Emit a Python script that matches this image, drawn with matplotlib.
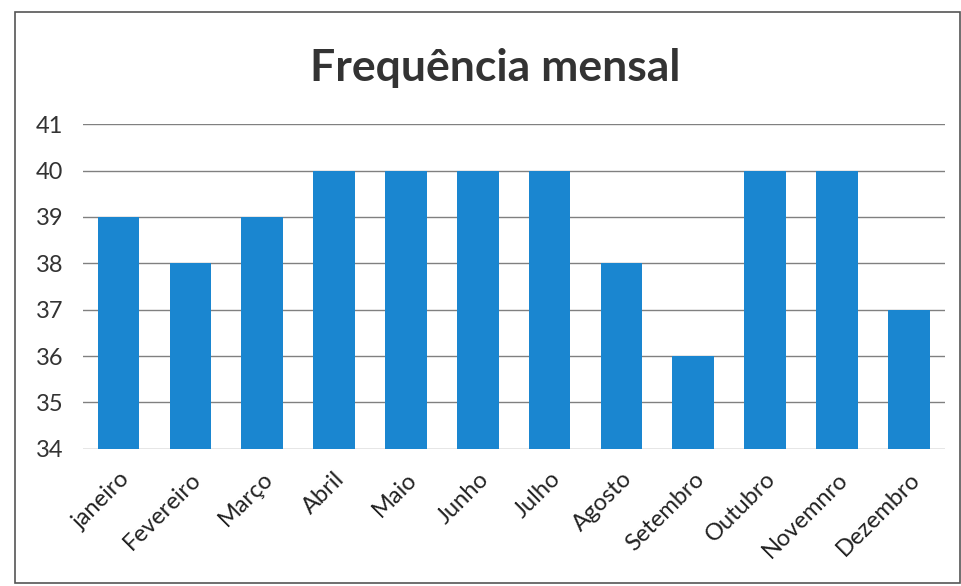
import numpy as np
import matplotlib.pyplot as plt
from matplotlib.patches import Rectangle

meses = ['janeiro', 'Fevereiro', 'Março', 'Abril', 'Maio', 'Junho', 'Julho',
         'Agosto', 'Setembro', 'Outubro', 'Novemnro', 'Dezembro']
frequencia = [39, 38, 39, 40, 40, 40, 40, 38, 36, 40, 40, 37]
y_ticks = [34, 35, 36, 37, 38, 39, 40, 41]

plt.rcParams['font.family'] = ['Lato', 'DejaVu Sans']

fig = plt.figure(figsize=(9.61, 5.86), dpi=100)
ax = fig.add_axes([0.086, 0.234, 0.897, 0.554])

# chart border like the Excel frame
fig.patches.append(Rectangle((15 / 961, 3 / 586), 0.999 - 15 / 961, 571 / 586,
                             transform=fig.transFigure, fill=False,
                             edgecolor='#555555', linewidth=1.2))

x = np.arange(len(meses))
ax.bar(x, frequencia, width=0.58, color='#1a86d0', zorder=2)

ax.set_ylim(34, 41)
ax.set_xlim(-0.5, len(meses) - 0.5)
ax.set_yticks(y_ticks)
ax.set_yticklabels([str(v) for v in y_ticks], fontsize=17, color='#333333')
ax.yaxis.grid(True, color='#808080', linewidth=1, zorder=0)
ax.set_xticks(x)
ax.set_xticklabels(meses, rotation=45, ha='right', rotation_mode='anchor',
                   fontsize=17, color='#222222')
ax.tick_params(axis='y', length=0, pad=14)
ax.tick_params(axis='x', length=0, pad=14)
for s in ax.spines.values():
    s.set_visible(False)

fig.text(0.515, 0.884, 'Frequência mensal', ha='center', va='center',
         fontsize=32, fontweight='bold', color='#333333')

fig.savefig('out.png', dpi=100)
